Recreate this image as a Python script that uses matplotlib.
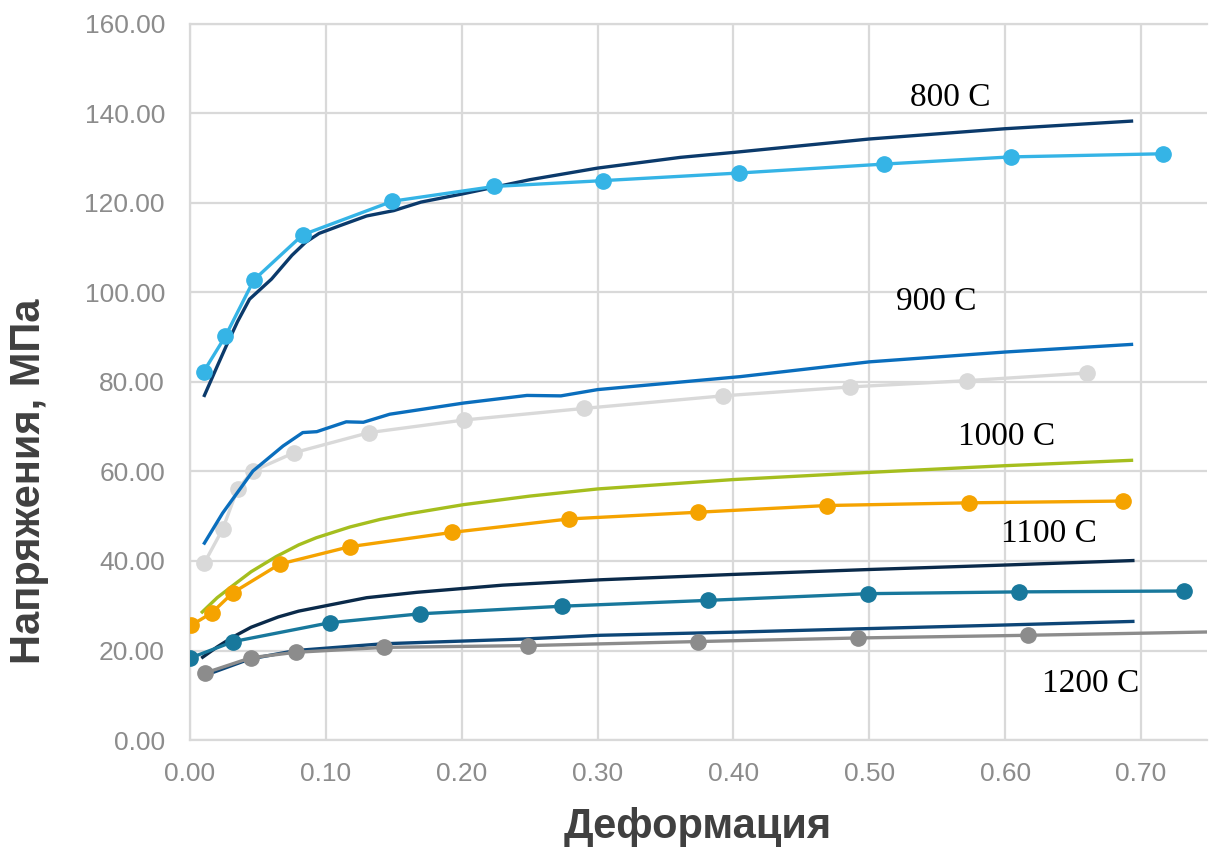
import matplotlib
matplotlib.use("Agg")
import matplotlib.pyplot as plt

# ---- data ----
# 800 C
x800_exp = [0.010, 0.026, 0.047, 0.083, 0.149, 0.224, 0.304, 0.404, 0.511, 0.604, 0.716]
y800_exp = [82.3, 90.2, 102.8, 112.9, 120.4, 123.7, 125.0, 126.7, 128.7, 130.3, 131.0]
x800_mod = [0.0106, 0.020, 0.0266, 0.035, 0.0438, 0.060, 0.075, 0.085, 0.095, 0.110, 0.130, 0.150, 0.170, 0.200, 0.250, 0.300, 0.361, 0.400, 0.500, 0.600, 0.693]
y800_mod = [77.0, 83.5, 88.0, 93.5, 98.5, 103.0, 108.3, 111.2, 113.2, 114.9, 117.1, 118.3, 120.2, 122.0, 125.2, 127.8, 130.2, 131.3, 134.3, 136.6, 138.3]

# 900 C
x900_exp = [0.0106, 0.024, 0.035, 0.0463, 0.0766, 0.132, 0.2015, 0.290, 0.392, 0.486, 0.572, 0.660]
y900_exp = [39.6, 47.1, 56.1, 60.1, 64.2, 68.7, 71.5, 74.1, 76.9, 78.9, 80.3, 82.0]
x900_mod = [0.0106, 0.024, 0.0463, 0.0685, 0.083, 0.0933, 0.115, 0.1276, 0.147, 0.2015, 0.248, 0.273, 0.300, 0.405, 0.500, 0.600, 0.693]
y900_mod = [44.0, 50.7, 60.1, 65.7, 68.7, 68.9, 71.1, 71.0, 72.8, 75.3, 77.0, 76.9, 78.3, 81.2, 84.5, 86.7, 88.4]

# 1000 C (model)
x1000_mod = [0.009, 0.020, 0.0315, 0.045, 0.0635, 0.080, 0.093, 0.1177, 0.140, 0.160, 0.2015, 0.250, 0.300, 0.400, 0.500, 0.600, 0.693]
y1000_mod = [28.6, 31.8, 34.5, 37.6, 41.0, 43.6, 45.2, 47.6, 49.3, 50.5, 52.6, 54.5, 56.1, 58.2, 59.8, 61.3, 62.5]

# 1100 C
x1100_exp = [0.0007, 0.016, 0.0315, 0.066, 0.1176, 0.193, 0.279, 0.374, 0.469, 0.5735, 0.687]
y1100_exp = [25.6, 28.4, 32.9, 39.3, 43.2, 46.4, 49.4, 50.9, 52.4, 53.0, 53.4]

# dark model and teal experiment around 20-40
x1100_mod = [0.0093, 0.020, 0.0315, 0.045, 0.065, 0.080, 0.100, 0.130, 0.167, 0.230, 0.302, 0.400, 0.500, 0.600, 0.694]
y1100_mod = [18.5, 20.8, 23.0, 25.2, 27.5, 28.8, 30.0, 31.8, 33.0, 34.6, 35.8, 37.0, 38.1, 39.1, 40.1]
x1150_exp = [0.000, 0.032, 0.1028, 0.1693, 0.274, 0.381, 0.4994, 0.610, 0.7317]
y1150_exp = [18.3, 22.0, 26.2, 28.2, 29.9, 31.2, 32.7, 33.1, 33.3]

# 1200 C
x1200_mod = [0.0106, 0.044, 0.078, 0.142, 0.248, 0.302, 0.400, 0.500, 0.600, 0.694]
y1200_mod = [14.4, 18.1, 20.0, 21.5, 22.6, 23.4, 24.1, 24.9, 25.7, 26.5]
x1200_exp = [0.0113, 0.045, 0.078, 0.143, 0.249, 0.3738, 0.4919, 0.6167, 0.760]
y1200_exp = [15.0, 18.4, 19.6, 20.7, 21.1, 22.0, 22.8, 23.4, 24.2]

labels = ["800 C", "900 C", "1000 C", "1100 C", "1200 C"]
label_x = [0.530, 0.520, 0.565, 0.597, 0.627]
label_y = [143.5, 98.0, 67.8, 46.2, 12.5]

yticks = [0, 20, 40, 60, 80, 100, 120, 140, 160]
xticks = [0.0, 0.1, 0.2, 0.3, 0.4, 0.5, 0.6, 0.7]

# ---- figure ----
plt.rcParams['font.family'] = ['Liberation Sans', 'DejaVu Sans']
fig = plt.figure(figsize=(12.11, 8.52), dpi=100)
ax = fig.add_axes([190 / 1211, 112 / 852, 1017 / 1211, 716 / 852])

lw = 2.4
ms = 11
grid_c = '#d9d9d9'

# model (smooth) lines
ax.plot(x800_mod, y800_mod, color='#0b3a6b', lw=lw, zorder=3)
ax.plot(x900_mod, y900_mod, color='#0a6ebd', lw=lw, zorder=3)
ax.plot(x1000_mod, y1000_mod, color='#a5be1e', lw=lw, zorder=3)
ax.plot(x1100_mod, y1100_mod, color='#0a2a4a', lw=lw, zorder=3)
ax.plot(x1200_mod, y1200_mod, color='#0d4677', lw=lw, zorder=3)

# experimental lines with markers
ax.plot(x800_exp, y800_exp, color='#35b4e6', lw=lw, marker='o', ms=ms, zorder=4)
ax.plot(x900_exp, y900_exp, color='#d9d9d9', lw=lw, marker='o', ms=ms, zorder=2)
ax.plot(x1100_exp, y1100_exp, color='#f5a300', lw=lw, marker='o', ms=ms, zorder=4)
ax.plot(x1150_exp, y1150_exp, color='#18789c', lw=lw, marker='o', ms=ms, zorder=4)
ax.plot(x1200_exp, y1200_exp, color='#8c8c8c', lw=lw, marker='o', ms=ms, zorder=4)

for t, tx, ty in zip(labels, label_x, label_y):
    ax.text(tx, ty, t, family='Liberation Serif', fontsize=24, color='black',
            ha='left', va='center', zorder=5)

ax.set_xlim(0, 1017 / 1358.6)
ax.set_ylim(0, 160)
ax.set_xticks(xticks)
ax.set_yticks(yticks)
ax.set_xticklabels([f"{v:.2f}" for v in xticks])
ax.set_yticklabels([f"{v:.2f}" for v in yticks])
ax.tick_params(axis='both', length=0, labelsize=19, labelcolor='#8c8c8c')
ax.tick_params(axis='y', pad=18)
ax.tick_params(axis='x', pad=16)
ax.grid(True, color=grid_c, lw=1.6, zorder=0)
ax.set_axisbelow(True)
for s in ['left', 'bottom', 'top']:
    ax.spines[s].set_color(grid_c)
    ax.spines[s].set_linewidth(1.6)
ax.spines['right'].set_visible(False)

fig.text(698 / 1211, 14 / 852, "Деформация", ha='center', va='baseline',
         fontsize=30, fontweight='bold', color='#404040')
fig.text(29 / 1211, (852 - 481) / 852, "Напряжения, МПа", ha='center', va='center',
         rotation=90, fontsize=30, fontweight='bold', color='#404040')

fig.savefig("out.png", dpi=100)
